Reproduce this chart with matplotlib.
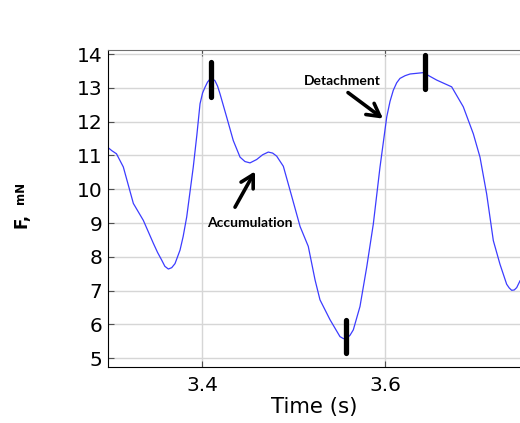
import numpy as np
import matplotlib.pyplot as plt

# force trace
t = [3.296, 3.301, 3.306, 3.3135, 3.3245, 3.3354, 3.3464, 3.351, 3.3556, 3.359,
     3.3628, 3.3665, 3.3701, 3.3756, 3.379, 3.3829, 3.3901, 3.394, 3.3975, 3.4003,
     3.403, 3.4057, 3.4084, 3.411, 3.4139, 3.4167, 3.4194, 3.4267, 3.4339, 3.4413,
     3.4467, 3.4522, 3.4595, 3.466, 3.4722, 3.477, 3.4814, 3.4887, 3.4979, 3.507,
     3.516, 3.5234, 3.5288, 3.5398, 3.5507, 3.5545, 3.5581, 3.5617, 3.5653, 3.5726,
     3.58, 3.5872, 3.5945, 3.6019, 3.6055, 3.6091, 3.6128, 3.6164, 3.622, 3.6274,
     3.6419, 3.6566, 3.673, 3.6857, 3.6967, 3.704, 3.7113, 3.7186, 3.7259, 3.7332,
     3.736, 3.7387, 3.7415, 3.7442, 3.7478]
F = [11.25, 11.14, 11.05, 10.66, 9.58, 9.08, 8.4, 8.13, 7.9, 7.72,
     7.64, 7.68, 7.8, 8.2, 8.6, 9.18, 10.66, 11.6, 12.53, 12.85,
     13.02, 13.17, 13.26, 13.27, 13.21, 13.05, 12.82, 12.13, 11.44, 10.95,
     10.82, 10.78, 10.88, 11.02, 11.1, 11.07, 10.98, 10.68, 9.79, 8.9,
     8.31, 7.32, 6.73, 6.14, 5.64, 5.58, 5.59, 5.68, 5.84, 6.53,
     7.7, 8.97, 10.65, 12.14, 12.6, 12.93, 13.15, 13.28, 13.36, 13.41,
     13.45, 13.23, 13.03, 12.44, 11.64, 10.95, 9.86, 8.48, 7.78, 7.19,
     7.08, 7.01, 7.02, 7.09, 7.29]

# black marker bars
bar_t = [3.4097, 3.557, 3.6435]
bar_lo = [12.74, 5.16, 12.97]
bar_hi = [13.76, 6.14, 13.98]

fig = plt.figure(figsize=(5.2, 4.23), dpi=100)
ax = fig.add_axes([0.2071, 0.1331, 0.7929, 0.7487])

ax.plot(t, F, color='#3c3cff', lw=0.9)
ax.vlines(bar_t, bar_lo, bar_hi, color='black', lw=3.8, capstyle='round')

ax.set_xlim(3.2964, 3.7478)
ax.set_ylim(4.75, 14.12)
ax.set_xticks([3.4, 3.6])
ax.set_xticklabels(['3.4', '3.6'])
ax.set_yticks(range(5, 15))
ax.grid(True, color='#d6d6d6', lw=1)
ax.set_axisbelow(True)
ax.tick_params(direction='in', length=4, color='#505050', labelsize=14.5,
               top=True, right=False)
ax.tick_params(axis='y', pad=4)
ax.tick_params(axis='x', pad=7)
ax.spines['right'].set_visible(False)
ax.spines['top'].set_color('#707070')
ax.set_xlabel('Time (s)', fontsize=15.3, labelpad=1)

fig.text(0.042, 0.478, 'F,', rotation=90, fontsize=12, fontweight='bold',
         ha='center', va='center')
fig.text(0.04, 0.545, 'mN', rotation=90, fontsize=8.5, fontweight='bold',
         ha='center', va='center')

arrow = dict(arrowstyle='->,head_length=0.9,head_width=0.5', lw=2.6, color='black',
             shrinkA=0, shrinkB=0)
ax.annotate('', xy=(3.5978, 12.09), xytext=(3.5595, 12.86), arrowprops=arrow)
ax.text(3.5529, 13.19, 'Detachment', fontsize=10, fontweight='bold',
        family='Lato', ha='center', va='center')
ax.annotate('', xy=(3.4577, 10.53), xytext=(3.4358, 9.47), arrowprops=arrow)
ax.text(3.4522, 8.99, 'Accumulation', fontsize=10, fontweight='bold',
        family='Lato', ha='center', va='center')

fig.savefig('out.png', dpi=100)
